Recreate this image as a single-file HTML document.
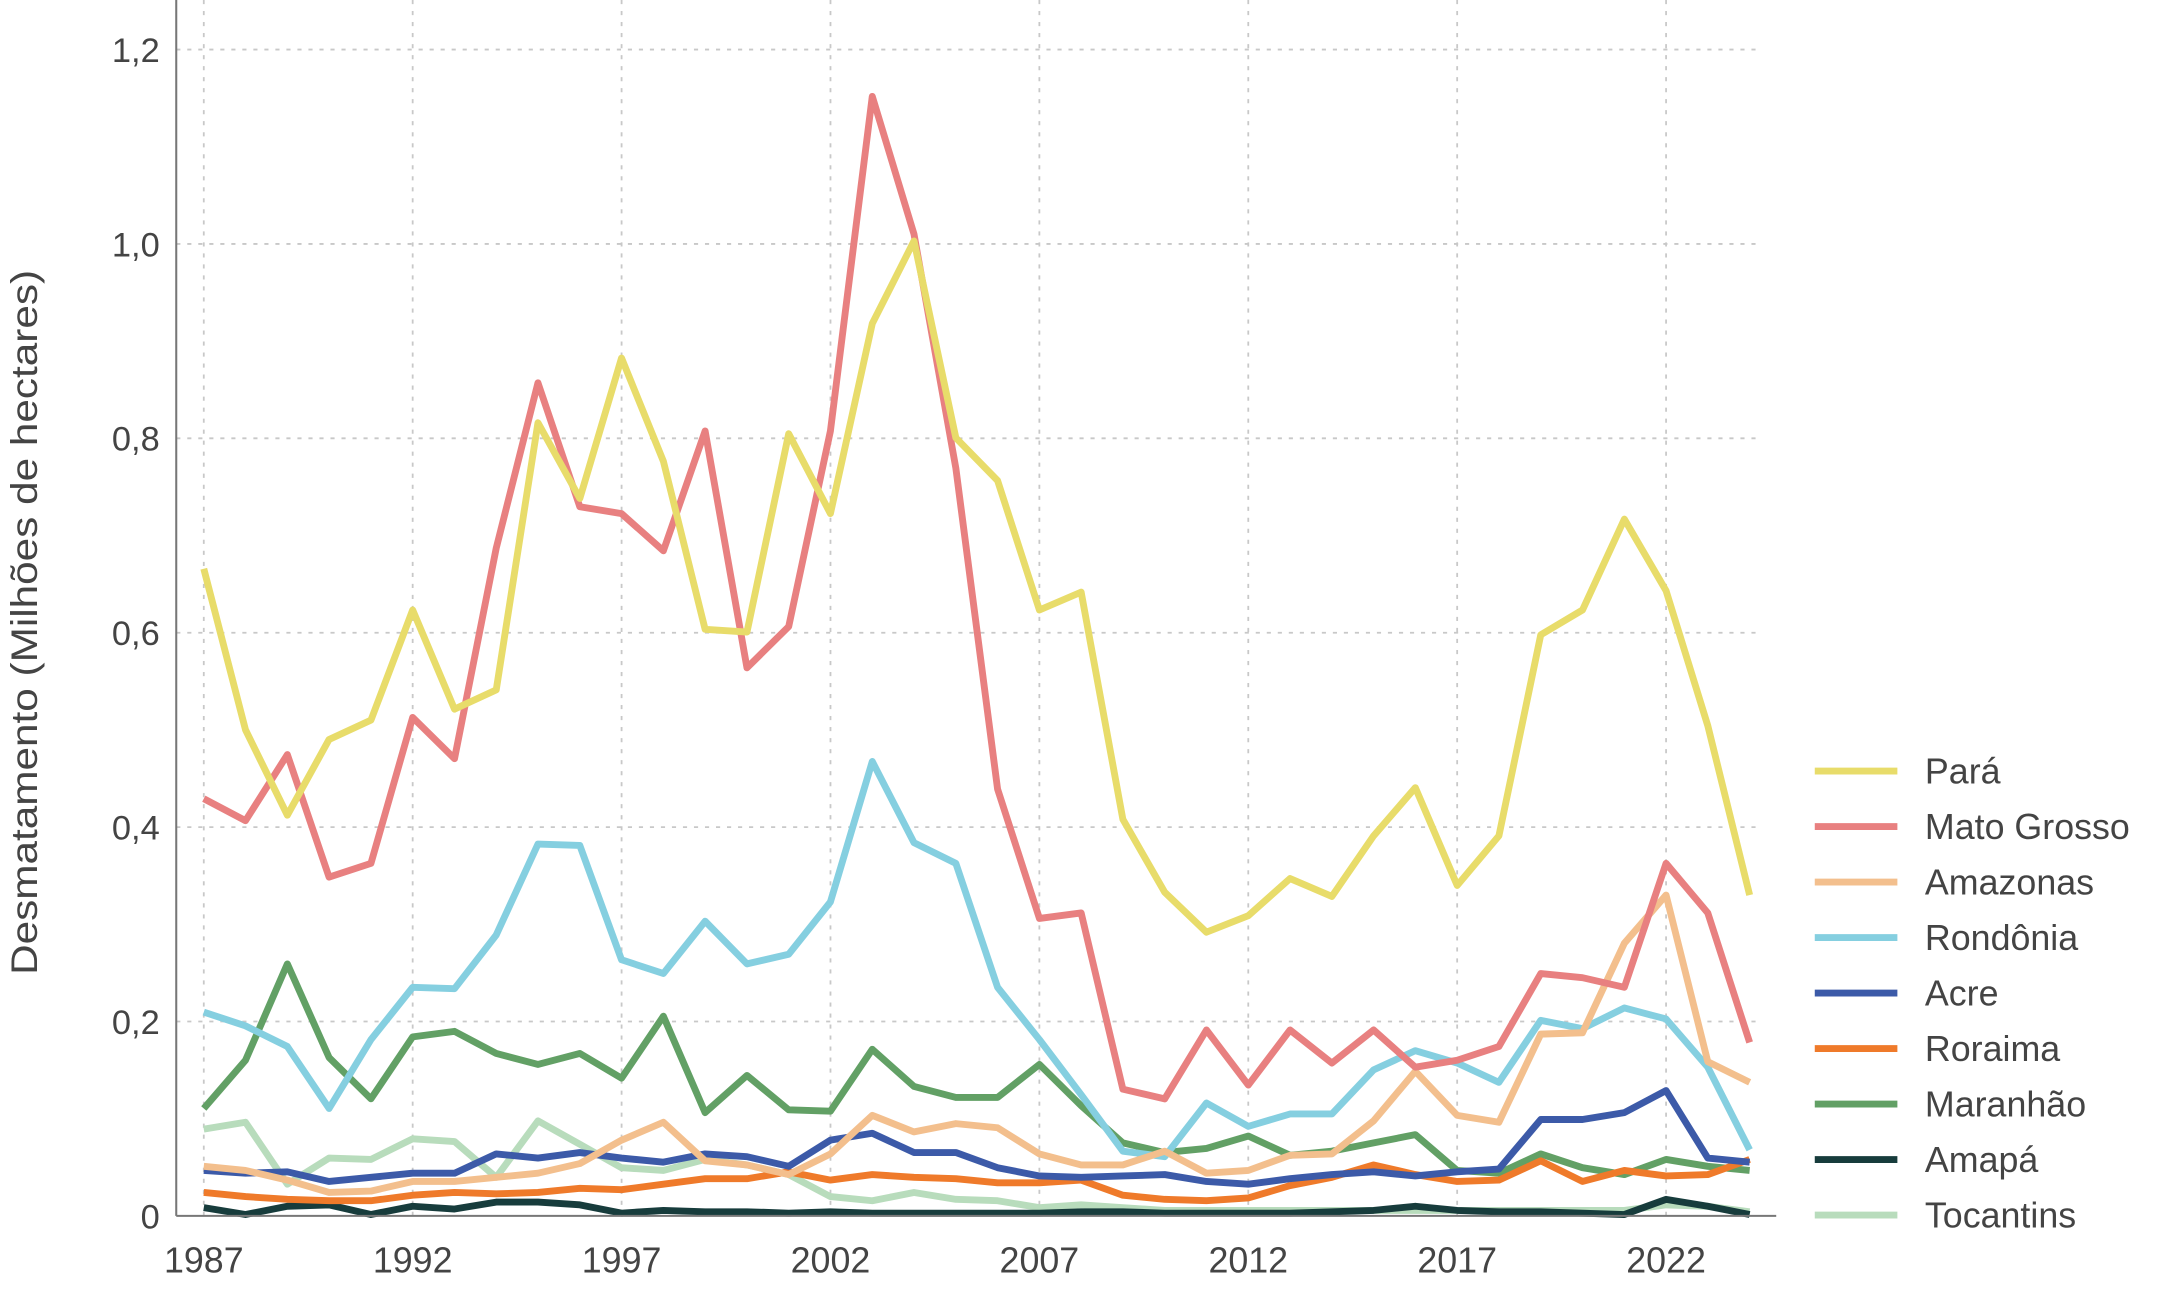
<!DOCTYPE html>
<html><head><meta charset="utf-8"><style>
html,body{margin:0;padding:0;background:#fff;}
svg{display:block;font-family:"Liberation Sans",sans-serif;}
</style></head><body>
<svg id="c" width="2159" height="1293" viewBox="0 0 1568 939" preserveAspectRatio="none" xmlns="http://www.w3.org/2000/svg">
<rect width="1568" height="939" fill="#fff"/>
<g id="grid" stroke="#c8c8c8" stroke-width="1.3" stroke-dasharray="3,5"></g>
<g id="series" fill="none" stroke-width="5" stroke-linejoin="round" stroke-linecap="butt"></g>
<line x1="128" y1="0" x2="128" y2="883" stroke="#777" stroke-width="1.5"/>
<line x1="128" y1="883" x2="1290" y2="883" stroke="#777" stroke-width="1.5"/>
<g id="labels" fill="#444" font-size="25"></g>
<text transform="translate(27,452) rotate(-90)" text-anchor="middle" font-size="27" fill="#444" textLength="512" lengthAdjust="spacingAndGlyphs">Desmatamento (Milhões de hectares)</text>
<g id="legend" font-size="26" fill="#444"></g>
</svg>
<script>
const NS="http://www.w3.org/2000/svg";
function el(t,a,p,txt){const e=document.createElementNS(NS,t);for(const k in a)e.setAttribute(k,a[k]);if(txt!==undefined)e.textContent=txt;document.getElementById(p).appendChild(e);return e;}
const X=y=>148+(y-1987)*30.343;
const ylab=["0","0,2","0,4","0,6","0,8","1,0","1,2"];
for(let i=0;i<7;i++){const y=883-i*141.17;
 if(i>0)el("line",{x1:128,y1:y,x2:1280,y2:y},"grid");
 el("text",{x:116,y:y+9,"text-anchor":"end"},"labels",ylab[i]);}
for(let yr=1987;yr<=2022;yr+=5){const x=X(yr);
 el("line",{x1:x,y1:0,x2:x,y2:883},"grid");
 el("text",{x:x,y:924,"text-anchor":"middle","font-size":"26"},"labels",String(yr));}
const S=[
["Tocantins","#b8dcbc",[820,815,860,841,842,827,829,855,814,831,848,850,842,846,853,869,872,866,871,872,877,875,877,879,879,879,879,879,879,879,879,879,879,879,879,875,876,880]],
["Amapá","#173c3c",[877,882,876,875,882,876,878,873,873,875,881,879,880,880,881,880,881,881,881,881,881,880,880,881,881,881,881,880,879,876,879,880,880,881,882,871,876,882]],
["Maranhão","#62a065",[805,770,700,768,798,753,749,765,773,765,783,738,808,781,806,807,762,789,797,797,773,803,830,837,834,825,839,836,830,824,850,852,838,848,853,842,847,850]],
["Roraima","#ef7a2a",[866,869,871,872,872,868,866,867,866,863,864,860,856,856,851,857,853,855,856,859,859,857,868,871,872,870,861,855,846,853,858,857,843,858,850,854,853,842]],
["Acre","#3c5aa8",[850,852,851,858,855,852,852,838,841,837,841,844,838,840,847,828,823,837,837,848,854,855,854,853,858,860,856,853,851,854,851,849,813,813,808,792,841,844]],
["Rondônia","#85cfe0",[735,745,760,805,755,717,718,679,613,614,697,707,669,700,693,655,553,612,627,717,755,795,836,840,801,818,809,809,777,763,772,786,741,747,732,740,775,835]],
["Amazonas","#f3bf8d",[847,850,857,866,865,858,858,855,852,845,828,815,843,846,853,838,810,822,816,819,838,846,846,836,852,850,839,838,814,778,810,815,751,750,685,650,771,786]],
["Mato Grosso","#e88080",[580,596,548,637,627,521,551,398,278,368,373,400,313,485,455,313,70,170,340,573,667,663,791,798,748,788,748,772,748,775,770,760,707,710,717,627,663,757]],
["Pará","#e8dc6a",[413,530,592,537,523,443,515,501,307,362,260,335,457,459,315,373,235,175,318,349,443,430,595,648,677,665,638,651,607,572,643,607,461,443,377,429,527,650]]
];
for(const [n,c,d] of S){el("polyline",{points:d.map((v,i)=>X(1987+i).toFixed(1)+","+v).join(" "),stroke:c},"series");}
const L=["Pará","Mato Grosso","Amazonas","Rondônia","Acre","Roraima","Maranhão","Amapá","Tocantins"];
L.forEach((n,i)=>{const c=S.find(s=>s[0]==n)[1];const y=560+i*40.3;
 el("line",{x1:1318,y1:y,x2:1378,y2:y,stroke:c,"stroke-width":5},"legend");
 el("text",{x:1398,y:y+9},"legend",n);});
</script>
</body></html>
